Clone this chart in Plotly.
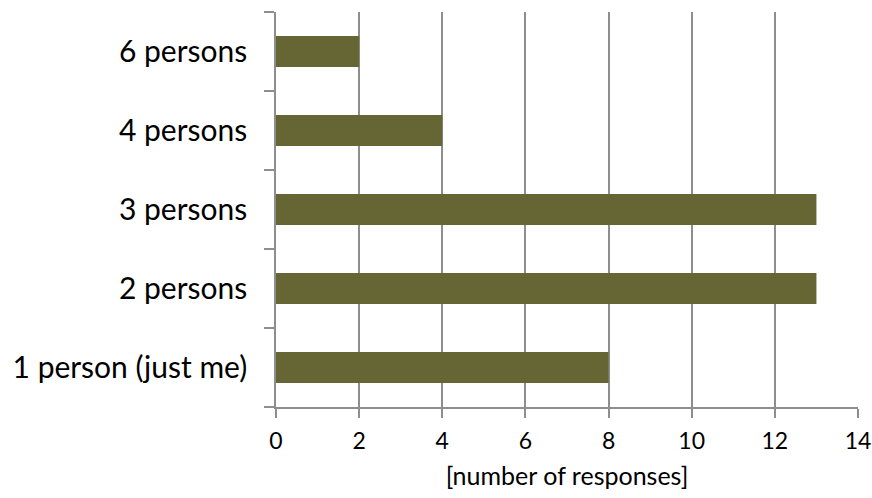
import plotly.graph_objects as go

categories = ["1 person (just me)", "2 persons", "3 persons", "4 persons", "6 persons"]
responses = [8, 13, 13, 4, 2]
x_ticks = [0, 2, 4, 6, 8, 10, 12, 14]

FONT = "Lato"
GRID = "#8e8e8e"

fig = go.Figure(
    go.Bar(
        x=responses,
        y=categories,
        orientation="h",
        marker=dict(color="#666634", line=dict(width=0)),
        width=0.39,
    )
)

fig.update_layout(
    width=872,
    height=498,
    margin=dict(l=276, r=14, t=12, b=91),
    paper_bgcolor="white",
    plot_bgcolor="white",
    showlegend=False,
    font=dict(family=FONT, color="black"),
)

fig.update_xaxes(
    range=[0, 14],
    tickvals=x_ticks,
    ticktext=[str(v) for v in x_ticks],
    automargin=False,
    showgrid=True,
    gridcolor=GRID,
    gridwidth=1.5,
    showline=True,
    linecolor=GRID,
    linewidth=1.5,
    ticks="outside",
    ticklen=9,
    tickcolor=GRID,
    tickwidth=1.5,
    tickfont=dict(size=23),
    ticklabelstandoff=4,
    zeroline=False,
    title=dict(text="[number of responses]", font=dict(size=25), standoff=14),
)

fig.update_yaxes(
    type="category",
    categoryorder="array",
    categoryarray=categories,
    automargin=False,
    showline=True,
    linecolor=GRID,
    linewidth=1.5,
    ticks="outside",
    tickson="boundaries",
    ticklen=10,
    tickcolor=GRID,
    tickwidth=1.5,
    tickfont=dict(size=30),
    ticklabelstandoff=21,
    showgrid=False,
    zeroline=False,
)

fig.write_html("out.html")
